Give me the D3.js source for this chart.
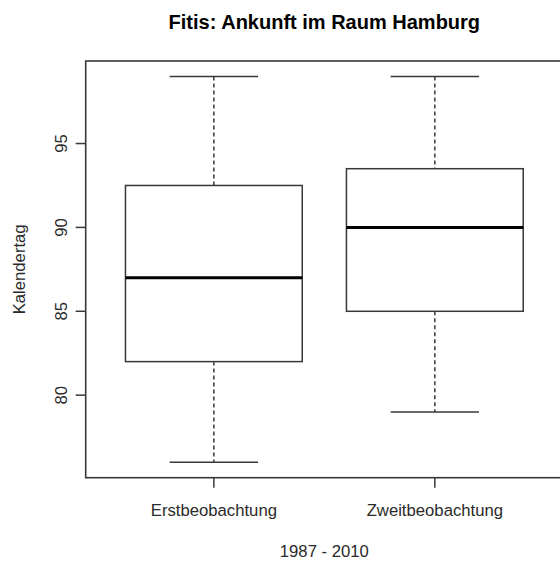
<!DOCTYPE html>
<html>
<head>
<meta charset="utf-8">
<script src="https://cdn.jsdelivr.net/npm/d3@7"></script>
<style>
  html, body { margin: 0; padding: 0; background: #fff; }
  svg { display: block; }
  text { font-family: "Liberation Sans", Arial, Helvetica, sans-serif; fill: #2a2a2a; }
</style>
</head>
<body>
<svg id="chart" width="560" height="563"></svg>
<script>
// Arrival dates (day of year) of the willow warbler near Hamburg, 1987–2010
const groups = ["Erstbeobachtung", "Zweitbeobachtung"];
const whiskerLow = [76, 79];
const quartile1 = [82, 85];
const medians = [87, 90];
const quartile3 = [92.5, 93.5];
const whiskerHigh = [99, 99];
const yTicks = [80, 85, 90, 95];

const titleText = "Fitis: Ankunft im Raum Hamburg";
const yTitle = "Kalendertag";
const xTitle = "1987 - 2010";

const svg = d3.select("#chart");

// plot region; the right border lies just beyond the canvas edge
const plot = { left: 85.7, right: 563, top: 61, bottom: 477.7 };

const x = d3.scaleLinear().domain([0.42, 2.58]).range([plot.left, plot.right]);
const y = d3.scaleLinear().domain([75.08, 99.92]).range([plot.bottom, plot.top]);

const lineColor = "#383838";
const boxHalf = 0.4;   // half box width, in group units
const capHalf = 0.2;   // half whisker-cap width
const tickLen = 10;

const g = svg.append("g");

groups.forEach((name, i) => {
  const pos = i + 1;
  const cx = x(pos);

  // dashed whiskers
  g.append("line")
    .attr("x1", cx).attr("x2", cx)
    .attr("y1", y(whiskerHigh[i])).attr("y2", y(quartile3[i]))
    .attr("stroke", lineColor).attr("stroke-width", 1.5)
    .attr("stroke-dasharray", "4,3");
  g.append("line")
    .attr("x1", cx).attr("x2", cx)
    .attr("y1", y(quartile1[i])).attr("y2", y(whiskerLow[i]))
    .attr("stroke", lineColor).attr("stroke-width", 1.5)
    .attr("stroke-dasharray", "4,3");

  // whisker caps
  [whiskerHigh[i], whiskerLow[i]].forEach(v => {
    g.append("line")
      .attr("x1", x(pos - capHalf)).attr("x2", x(pos + capHalf))
      .attr("y1", y(v)).attr("y2", y(v))
      .attr("stroke", lineColor).attr("stroke-width", 1.5);
  });

  // box
  g.append("rect")
    .attr("x", x(pos - boxHalf))
    .attr("y", y(quartile3[i]))
    .attr("width", x(pos + boxHalf) - x(pos - boxHalf))
    .attr("height", y(quartile1[i]) - y(quartile3[i]))
    .attr("fill", "none")
    .attr("stroke", lineColor).attr("stroke-width", 1.5);

  // median
  g.append("line")
    .attr("x1", x(pos - boxHalf)).attr("x2", x(pos + boxHalf))
    .attr("y1", y(medians[i])).attr("y2", y(medians[i]))
    .attr("stroke", "#000").attr("stroke-width", 3);
});

// plot frame
svg.append("rect")
  .attr("x", plot.left).attr("y", plot.top)
  .attr("width", plot.right - plot.left)
  .attr("height", plot.bottom - plot.top)
  .attr("fill", "none")
  .attr("stroke", lineColor).attr("stroke-width", 1.6);

// y axis: ticks and vertical labels
const yAxis = svg.append("g");
yTicks.forEach(t => {
  yAxis.append("line")
    .attr("x1", plot.left - tickLen).attr("x2", plot.left)
    .attr("y1", y(t)).attr("y2", y(t))
    .attr("stroke", lineColor).attr("stroke-width", 1.5);
  yAxis.append("text")
    .attr("transform", `translate(${plot.left - 19},${y(t)}) rotate(-90)`)
    .attr("text-anchor", "middle")
    .attr("font-size", 16.7)
    .text(t);
});

// x axis: ticks and group labels
const xAxis = svg.append("g");
groups.forEach((name, i) => {
  const cx = x(i + 1);
  xAxis.append("line")
    .attr("x1", cx).attr("x2", cx)
    .attr("y1", plot.bottom).attr("y2", plot.bottom + tickLen)
    .attr("stroke", lineColor).attr("stroke-width", 1.5);
  xAxis.append("text")
    .attr("x", cx).attr("y", 516)
    .attr("text-anchor", "middle")
    .attr("font-size", 16.7)
    .text(name);
});

// axis titles
svg.append("text")
  .attr("x", x(1.5)).attr("y", 556.5)
  .attr("text-anchor", "middle")
  .attr("font-size", 16.7)
  .text(xTitle);

svg.append("text")
  .attr("transform", `translate(25,${(plot.top + plot.bottom) / 2}) rotate(-90)`)
  .attr("text-anchor", "middle")
  .attr("font-size", 16.7)
  .text(yTitle);

// main title
svg.append("text")
  .attr("x", x(1.5)).attr("y", 29)
  .attr("text-anchor", "middle")
  .attr("font-size", 20)
  .attr("font-weight", "bold")
  .style("fill", "#000")
  .text(titleText);
</script>
</body>
</html>
